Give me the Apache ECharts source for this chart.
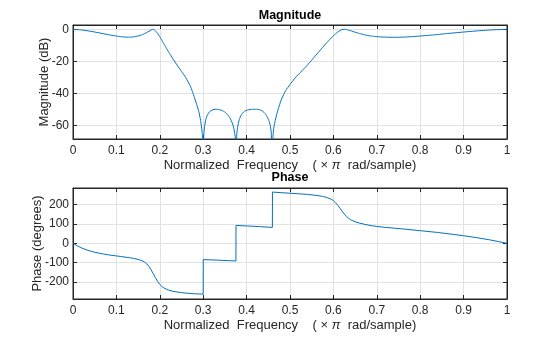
<!DOCTYPE html>
<html><head><meta charset="utf-8">
<script src="https://cdn.jsdelivr.net/npm/echarts@6/dist/echarts.min.js"></script>
<style>html,body{margin:0;padding:0;background:#fff}#c{width:560px;height:337px}</style>
</head><body><div id="c"></div><script>
// ---- data ----
const magFreq = [0,0.02,0.04,0.06,0.08,0.10,0.11,0.12,0.13,0.14,0.15,0.16,0.17,0.175,0.18,0.185,0.19,0.195,0.20,0.205,0.21,0.215,0.22,0.225,0.23,0.24,0.25,0.26,0.27,0.275,0.28,0.285,0.29,0.294,0.297,0.299,0.300,0.301,0.303,0.306,0.31,0.315,0.32,0.325,0.33,0.337,0.344,0.35,0.356,0.362,0.367,0.371,0.374,0.3755,0.377,0.379,0.383,0.388,0.395,0.403,0.413,0.423,0.43,0.437,0.443,0.448,0.452,0.455,0.457,0.459,0.461,0.463,0.466,0.47,0.475,0.481,0.49,0.50,0.51,0.52,0.53,0.54,0.55,0.56,0.57,0.58,0.59,0.60,0.605,0.61,0.615,0.62,0.625,0.63,0.64,0.65,0.66,0.67,0.68,0.69,0.70,0.72,0.74,0.76,0.78,0.80,0.83,0.86,0.90,0.94,0.97,1.0];
const magDb = [0,-0.4,-1.2,-2.2,-3.3,-4.2,-4.6,-4.85,-4.9,-4.7,-4.2,-3.3,-2.0,-1.2,-0.4,0,-1.0,-2.6,-4.6,-7.0,-9.4,-11.7,-14.0,-16.2,-18.4,-22.4,-26.3,-30.3,-35.3,-38.8,-42.8,-47.0,-51.5,-57,-63,-70,-100,-68,-61,-56.3,-53.4,-51.5,-50.6,-50.1,-50,-50.2,-50.8,-51.8,-53.3,-55.6,-58.6,-62.5,-68,-100,-67,-61.5,-56.5,-53.3,-51.3,-50.4,-50,-50,-50.3,-51.2,-52.8,-55,-57.5,-61,-65,-100,-66,-61,-57,-52.5,-48,-43.3,-38.3,-34.5,-31,-28,-25.3,-22.4,-19.3,-16.1,-12.9,-9.8,-6.8,-4.0,-2.8,-1.7,-0.8,-0.2,0,-0.2,-0.9,-1.8,-2.6,-3.3,-3.9,-4.3,-4.6,-4.9,-5.0,-4.9,-4.6,-4.2,-3.5,-2.7,-1.7,-0.8,-0.3,0];

const phaseFreq = [0,0.01,0.02,0.03,0.04,0.05,0.06,0.07,0.08,0.09,0.10,0.11,0.12,0.13,0.14,0.15,0.155,0.16,0.165,0.17,0.175,0.18,0.185,0.19,0.195,0.20,0.205,0.21,0.22,0.23,0.24,0.25,0.26,0.27,0.28,0.29,0.2999,0.3001,0.33,0.36,0.3754,0.3756,0.40,0.43,0.4594,0.4596,0.48,0.50,0.52,0.54,0.56,0.575,0.585,0.595,0.60,0.605,0.61,0.615,0.62,0.625,0.63,0.635,0.64,0.65,0.66,0.67,0.68,0.69,0.70,0.72,0.74,0.76,0.80,0.84,0.88,0.90,0.93,0.96,0.98,1.0];
const phaseDeg = [0,-13,-24,-33,-40,-46,-51,-55,-59,-62,-65,-68,-71,-74,-78,-83,-87,-91,-97,-106,-119,-137,-157,-177,-197,-212,-223,-231,-241,-247,-251,-254,-256.5,-258.5,-260,-261,-262,-84,-86.5,-89.5,-91,92,89.5,86,82,264,261,258,255,252,247,242,236,227,220,209,196,181,166,151,139,129,121,111,104,99,94,90,87,82,78,74,65,56,45,39,29,18,9,0];

const magRange = [-68.6, 2.7];
const phaseRange = [-287, 285];
const magStep = 20, phaseStep = 100, freqStep = 0.1;

const titles = ['Magnitude', 'Phase'];
const yNames = ['Magnitude (dB)', 'Phase (degrees)'];
const xName = 'Normalized  Frequency    ( \u00d7 {i|\u03c0}  rad/sample)';

// ---- styling ----
const FONT = '"Liberation Sans", Arial, Helvetica, sans-serif';
const AX = '#262626', GRIDC = '#e2e2e2', LINE = '#0072BD';
const TICKFS = 12, NAMEFS = 13;

const zip = (a, b) => a.map((v, i) => [v, b[i]]);

function xAxesFor(gi) {
  return [{
    type: 'value', gridIndex: gi, position: 'bottom', min: 0, max: 1, interval: freqStep,
    axisLine: { show: true, onZero: false, lineStyle: { color: AX, width: 1 } },
    axisTick: { show: true, inside: true, length: 4, lineStyle: { color: AX } },
    axisLabel: { color: AX, fontFamily: FONT, fontSize: TICKFS, margin: 6,
      formatter: v => String(+(+v).toFixed(1)) },
    splitLine: { show: true, lineStyle: { color: GRIDC, width: 1 } },
    name: xName, nameLocation: 'middle', nameGap: 20, nameMoveOverlap: false,
    nameTextStyle: { color: AX, fontFamily: FONT, fontSize: NAMEFS,
      rich: { i: { fontStyle: 'italic', fontFamily: FONT, fontSize: NAMEFS, color: AX } } }
  }, {
    type: 'value', gridIndex: gi, position: 'top', min: 0, max: 1, interval: freqStep,
    axisLine: { show: true, onZero: false, lineStyle: { color: AX, width: 1 } },
    axisTick: { show: true, inside: true, length: 4, lineStyle: { color: AX } },
    axisLabel: { show: false }, splitLine: { show: false }
  }];
}
function yAxesFor(gi, range, step, name, gap) {
  return [{
    type: 'value', gridIndex: gi, position: 'left', min: range[0], max: range[1],
    minInterval: step, maxInterval: step,
    axisLine: { show: true, onZero: false, lineStyle: { color: AX, width: 1 } },
    axisTick: { show: true, inside: true, length: 4, lineStyle: { color: AX } },
    axisLabel: { color: AX, fontFamily: FONT, fontSize: TICKFS, margin: 4, showMinLabel: false, showMaxLabel: false },
    splitLine: { show: true, lineStyle: { color: GRIDC, width: 1 } },
    name: name, nameLocation: 'middle', nameGap: gap, nameMoveOverlap: false,
    nameTextStyle: { color: AX, fontFamily: FONT, fontSize: NAMEFS }
  }, {
    type: 'value', gridIndex: gi, position: 'right', min: range[0], max: range[1],
    minInterval: step, maxInterval: step,
    axisLine: { show: true, onZero: false, lineStyle: { color: AX, width: 1 } },
    axisTick: { show: true, inside: true, length: 4, lineStyle: { color: AX } },
    axisLabel: { show: false }, splitLine: { show: false }
  }];
}

const chart = echarts.init(document.getElementById('c'), null, { renderer: 'canvas' });
chart.setOption({
  animation: false,
  backgroundColor: '#fff',
  grid: [
    { left: 73, top: 25, width: 434, height: 114, show: true, borderColor: AX, borderWidth: 1, backgroundColor: '#fff' },
    { left: 73, top: 188, width: 434, height: 111, show: true, borderColor: AX, borderWidth: 1, backgroundColor: '#fff' }
  ],
  xAxis: [...xAxesFor(0), ...xAxesFor(1)],
  yAxis: [...yAxesFor(0, magRange, magStep, yNames[0], 22), ...yAxesFor(1, phaseRange, phaseStep, yNames[1], 29)],
  graphic: [
    { type: 'text', x: 290, y: 15.5, style: { text: titles[0], font: 'bold 12.5px ' + FONT, fill: '#000', align: 'center', verticalAlign: 'middle' } },
    { type: 'text', x: 290, y: 178, style: { text: titles[1], font: 'bold 12.5px ' + FONT, fill: '#000', align: 'center', verticalAlign: 'middle' } }
  ],
  series: [
    { type: 'line', xAxisIndex: 0, yAxisIndex: 0, data: zip(magFreq, magDb), showSymbol: false, clip: true, smooth: 0.15,
      lineStyle: { color: LINE, width: 1 }, itemStyle: { color: LINE } },
    { type: 'line', xAxisIndex: 2, yAxisIndex: 2, data: zip(phaseFreq, phaseDeg), showSymbol: false, clip: true,
      lineStyle: { color: LINE, width: 1 }, itemStyle: { color: LINE } }
  ]
});
</script></body></html>
